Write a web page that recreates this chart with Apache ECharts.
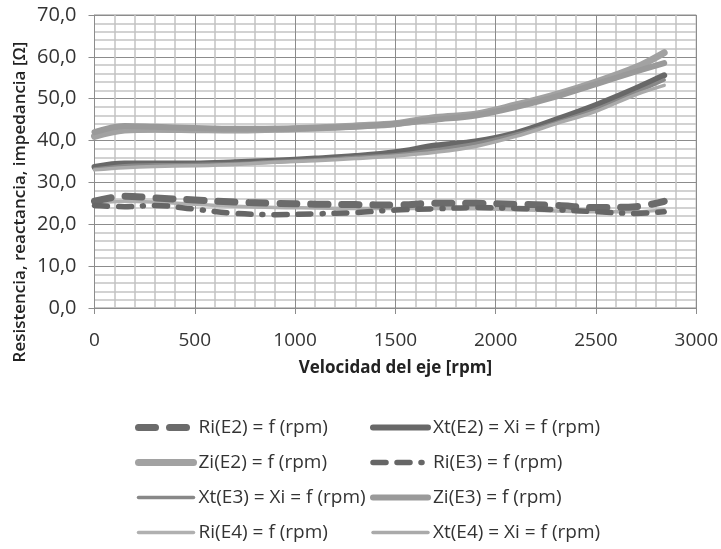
<!DOCTYPE html>
<html><head><meta charset="utf-8">
<script src="https://cdn.jsdelivr.net/npm/echarts@6/dist/echarts.min.js"></script>
<style>html,body{margin:0;padding:0;background:#fff}#c{width:721px;height:549px}</style>
</head><body><div id="c"></div>
<script>
const rpm = [0, 150, 300, 500, 700, 900, 1100, 1300, 1500, 1700, 1900, 2100, 2300, 2500, 2700, 2840];
const riE2 = [25.5, 26.7, 26.3, 25.8, 25.3, 25.0, 24.8, 24.7, 24.6, 25.0, 25.0, 24.8, 24.5, 24.0, 24.2, 25.5];
const xtE2 = [33.7, 34.5, 34.5, 34.5, 34.8, 35.2, 35.7, 36.3, 37.2, 38.8, 39.8, 41.8, 45.0, 48.5, 52.5, 55.6];
const ziE2 = [41.0, 42.5, 42.7, 42.6, 42.5, 42.7, 43.0, 43.5, 44.0, 45.5, 46.3, 48.5, 51.0, 54.0, 57.5, 61.0];
const riE3 = [24.5, 24.2, 24.5, 23.6, 22.6, 22.3, 22.5, 22.8, 23.4, 23.7, 24.0, 23.8, 23.5, 23.0, 22.6, 23.0];
const xtE3 = [33.2, 34.0, 34.2, 34.3, 34.5, 35.0, 35.4, 36.0, 36.6, 37.8, 39.3, 41.5, 44.3, 47.5, 51.5, 54.5];
const ziE3 = [42.0, 43.5, 43.3, 43.0, 42.8, 42.8, 43.0, 43.3, 44.0, 45.0, 46.0, 48.0, 50.5, 53.5, 56.5, 58.5];
const riE4 = [25.0, 25.5, 25.3, 24.8, 24.3, 24.0, 23.9, 23.8, 23.8, 23.8, 23.7, 23.5, 23.2, 23.0, 23.0, 23.5];
const xtE4 = [33.0, 33.5, 33.8, 34.0, 34.3, 34.8, 35.2, 35.7, 36.3, 37.2, 38.6, 41.0, 44.0, 47.0, 51.0, 53.2];
const yTicks = [0, 10, 20, 30, 40, 50, 60, 70];
const xTicks = [0, 500, 1000, 1500, 2000, 2500, 3000];
const names = ['Ri(E2) = f (rpm)', 'Xt(E2) = Xi = f (rpm)', 'Zi(E2) = f (rpm)', 'Ri(E3) = f (rpm)',
  'Xt(E3) = Xi = f (rpm)', 'Zi(E3) = f (rpm)', 'Ri(E4) = f (rpm)', 'Xt(E4) = Xi = f (rpm)'];

const FONT = 'Open Sans';
const pair = arr => rpm.map((x, i) => [x, arr[i]]);
function ser(name, data, color, width, type, z) {
  return {
    name, type: 'line', data: pair(data), smooth: 0.35, symbol: 'none', showSymbol: false, z: z,
    lineStyle: { color, width, type, cap: 'round', join: 'round' },
    itemStyle: { color }, emphasis: { disabled: true }
  };
}
const chart = echarts.init(document.getElementById('c'), null, { renderer: 'canvas' });
const legendCommon = {
  orient: 'vertical', itemWidth: 55, itemHeight: 14, itemGap: 16,
  itemStyle: { opacity: 0 },
  lineStyle: { width: 'inherit', type: 'inherit', cap: 'round' },
  textStyle: { fontFamily: FONT, fontSize: 19, color: '#333' }, selectedMode: false
};
chart.setOption({
  animation: false,
  grid: { left: 94.5, right: 23, top: 15, bottom: 241, show: true, borderColor: '#8c8c8c', borderWidth: 1 },
  xAxis: {
    type: 'value', min: 0, max: 3000, interval: 500,
    name: 'Velocidad del eje [rpm]', nameLocation: 'middle', nameGap: 52,
    nameTextStyle: { fontFamily: FONT, fontSize: 17, fontWeight: 'bold', color: '#222' },
    axisLine: { show: true, lineStyle: { color: '#8c8c8c' } },
    axisTick: { show: true, length: 6, lineStyle: { color: '#8c8c8c' } },
    axisLabel: { margin: 23, fontFamily: FONT, fontSize: 19, color: '#333', formatter: v => xTicks.includes(v) ? String(v) : '' },
    splitLine: { show: true, lineStyle: { color: '#8c8c8c', width: 1 } },
    minorTick: { show: false, splitNumber: 5 },
    minorSplitLine: { show: true, lineStyle: { color: '#c4c4c4', width: 1.5 } }
  },
  yAxis: {
    type: 'value', min: 0, max: 70, interval: 10,
    axisLine: { show: true, lineStyle: { color: '#8c8c8c' } },
    axisTick: { show: true, length: 6, lineStyle: { color: '#8c8c8c' } },
    axisLabel: { margin: 18, fontFamily: FONT, fontSize: 20, color: '#333', formatter: v => yTicks.includes(v) ? v.toFixed(1).replace('.', ',') : '' },
    splitLine: { show: true, lineStyle: { color: '#8c8c8c', width: 1 } },
    minorTick: { show: false, splitNumber: 5 },
    minorSplitLine: { show: true, lineStyle: { color: '#c4c4c4', width: 1.5 } }
  },
  legend: [
    Object.assign({ left: 130, top: 413, data: [names[0], names[2], names[4], names[6]] }, legendCommon),
    Object.assign({ left: 365, top: 413, data: [names[1], names[3], names[5], names[7]] }, legendCommon)
  ],
  graphic: [{
    type: 'text', x: 20, y: 202, rotation: Math.PI / 2,
    style: { text: 'Resistencia, reactancia, impedancia [Ω]', fontFamily: FONT, fontSize: 17, fontWeight: 600, fill: '#222', align: 'center', verticalAlign: 'middle' }
  }],
  series: [
    ser(names[0], riE2, '#6b6b6b', 7, [17, 14], 5),
    ser(names[1], xtE2, '#686868', 6, 'solid', 4),
    ser(names[2], ziE2, '#a2a2a2', 7, 'solid', 3),
    ser(names[3], riE3, '#666666', 5.5, [13, 11, 13, 11, 1, 11], 6),
    ser(names[4], xtE3, '#888888', 3.5, 'solid', 4),
    ser(names[5], ziE3, '#9a9a9a', 6, 'solid', 3),
    ser(names[6], riE4, '#b0b0b0', 3.5, 'solid', 4),
    ser(names[7], xtE4, '#aaaaaa', 3.5, 'solid', 4)
  ]
});
</script></body></html>
